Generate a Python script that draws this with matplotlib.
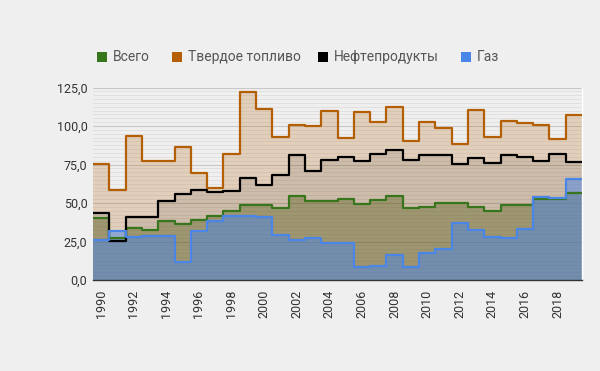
import matplotlib
matplotlib.use("Agg")
import matplotlib.pyplot as plt
import numpy as np
from matplotlib.patches import Rectangle

years = list(range(1990, 2020))
total = [40.1, 27.1, 33.6, 32.3, 38.0, 36.2, 39.1, 41.7, 44.5, 48.8,
         48.4, 46.7, 54.3, 51.0, 51.6, 52.5, 49.5, 52.1, 54.7, 46.7,
         47.7, 49.9, 49.9, 47.7, 44.5, 48.4, 48.4, 52.6, 52.6, 56.2]
solid = [75.5, 58.6, 93.3, 77.5, 77.0, 86.6, 69.4, 60.0, 82.0, 122.2,
         111.3, 93.1, 100.9, 99.8, 109.6, 92.2, 109.2, 102.4, 112.4, 90.0,
         102.4, 98.7, 88.3, 110.2, 92.9, 103.1, 102.0, 100.9, 91.6, 107.4]
oil = [43.6, 25.2, 40.6, 40.8, 51.4, 55.8, 58.2, 57.1, 57.6, 66.0,
       61.8, 67.9, 81.4, 71.0, 77.7, 79.7, 77.0, 81.7, 84.2, 78.1,
       80.9, 81.4, 75.3, 79.0, 76.0, 81.4, 79.7, 77.5, 82.0, 76.4]
gas = [26.0, 31.9, 28.2, 28.9, 28.9, 11.5, 32.1, 38.0, 41.7, 41.7,
       41.2, 29.3, 26.0, 27.1, 23.9, 23.9, 8.7, 9.0, 16.3, 8.3,
       17.8, 20.0, 36.9, 32.6, 28.2, 27.1, 33.2, 53.6, 53.2, 65.8]

series_names = ["Всего", "Твердое топливо", "Нефтепродукты", "Газ"]
series_vals = [total, solid, oil, gas]
colors = ["#38761d", "#b45f06", "#000000", "#4a86e8"]
fill_colors = ["#3a5a12", "#b45f06", "#000000", "#4a86e8"]
fill_alpha = [0.36, 0.22, 0.09, 0.5]
y_ticks = [0, 25, 50, 75, 100, 125]

plt.rcParams['font.family'] = ['Roboto', 'DejaVu Sans']
bg = "#efefef"
fig = plt.figure(figsize=(6.0, 3.71), dpi=100, facecolor=bg)
ax = fig.add_axes([0.155, 0.2453, 0.815, 0.5187], facecolor=bg)

edges = np.array(years + [years[-1] + 1], dtype=float) - 0.5

for vals, col, a in zip(series_vals, fill_colors, fill_alpha):
    ax.stairs(vals, edges, baseline=0, fill=True, color=col, alpha=a,
              linewidth=0, zorder=2)
for vals, col in zip(series_vals, colors):
    ax.stairs(vals, edges, baseline=None, color=col, linewidth=1.6,
              zorder=3, joinstyle='round', capstyle='round')

ax.set_xlim(edges[0], edges[-1])
ax.set_ylim(0, 125)
ax.set_yticks(y_ticks)
ax.set_yticklabels([f"{v:.1f}".replace(".", ",") for v in y_ticks],
                   fontsize=9, color="#333333")
ax.set_yticks(np.arange(0, 125, 2.5), minor=True)
ax.grid(True, which='major', axis='y', color="#c8c8c8", linewidth=0.8, zorder=1)
ax.grid(True, which='minor', axis='y', color="#dedede", linewidth=0.6, zorder=1)
ax.set_axisbelow(True)

xt = [y for y in years if y % 2 == 0]
ax.set_xticks(xt)
ax.set_xticklabels([str(y) for y in xt], rotation=90, fontsize=9, color="#333333")
ax.tick_params(axis='both', length=0, pad=4)
ax.tick_params(axis='x', pad=7)
ax.tick_params(axis='y', which='minor', length=0)

for s in ['top', 'left']:
    ax.spines[s].set_visible(False)
ax.spines['right'].set_color("#ffffff")
ax.spines['right'].set_linewidth(1.0)
ax.spines['bottom'].set_color("#333333")
ax.spines['bottom'].set_linewidth(1.0)

# legend
leg_x = [97, 172, 318, 461]
leg_y = 371 - 57
for name, col, lx in zip(series_names, colors, leg_x):
    fig.patches.append(Rectangle((lx / 600, (leg_y - 5) / 371), 10 / 600, 10 / 371,
                                 transform=fig.transFigure, facecolor=col,
                                 edgecolor='none'))
    fig.text((lx + 16) / 600, leg_y / 371, name, fontsize=10, color="#555555",
             va='center', ha='left')

fig.savefig("out.png", dpi=100, facecolor=bg)
